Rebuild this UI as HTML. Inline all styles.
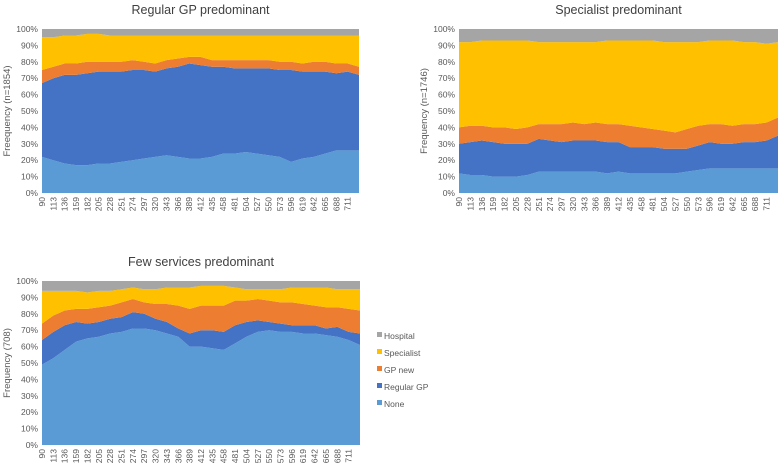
<!DOCTYPE html>
<html><head><meta charset="utf-8"><style>
body{margin:0;background:#fff;}
svg{display:block;font-family:"Liberation Sans",sans-serif;}
</style></head><body>
<svg id="s" width="780" height="465"></svg>
<script>
const xTicks=[90,113,136,159,182,205,228,251,274,297,320,343,366,389,412,435,458,481,504,527,550,573,596,619,642,665,688,711];
const xPoints=[90,113,136,159,182,205,228,251,274,297,320,343,366,389,412,435,458,481,504,527,550,573,596,619,642,665,688,711,734];
const yTicks=[0,10,20,30,40,50,60,70,80,90,100];
const seriesNames=["None","Regular GP","GP new","Specialist","Hospital"];
const colors=["#5B9BD5","#4472C4","#ED7D31","#FFC000","#A5A5A5"];
// cumulative upper bounds (%) of each stacked layer
const gpNone=[22,20,18,17,17,18,18,19,20,21,22,23,22,21,21,22,24,24,25,24,23,22,19,21,22,24,26,26,26];
const gpRegular=[67,70,72,72,73,74,74,74,75,75,74,76,77,79,78,77,77,76,76,76,76,75,75,74,74,74,73,74,72];
const gpNew=[75,77,79,79,80,80,80,80,81,80,79,81,82,83,83,81,81,81,81,81,81,80,80,79,80,80,79,79,77];
const gpSpec=[95,95,96,96,97,97,96,96,96,96,96,96,96,96,96,96,96,96,96,96,96,96,96,96,96,96,96,96,96];
const spNone=[12,11,11,10,10,10,11,13,13,13,13,13,13,12,13,12,12,12,12,12,13,14,15,15,15,15,15,15,15];
const spRegular=[30,31,32,31,30,30,30,33,32,31,32,32,32,31,31,28,28,28,27,27,27,29,31,30,30,31,31,32,35];
const spNew=[40,41,41,40,40,39,40,42,42,42,43,42,43,42,42,41,40,39,38,37,39,41,42,42,41,42,42,43,46];
const spSpec=[92,92,93,93,93,93,93,92,92,92,92,92,92,93,93,93,93,93,92,92,92,92,93,93,93,92,92,91,92];
const fwNone=[49,53,58,63,65,66,68,69,71,71,70,68,66,60,60,59,58,62,66,69,70,69,69,68,68,67,66,64,61];
const fwRegular=[64,69,73,75,74,75,77,78,81,80,77,75,71,68,70,70,69,73,75,76,75,74,73,73,73,71,72,69,68];
const fwNew=[74,79,82,83,83,84,85,87,89,87,86,86,85,83,85,85,85,88,88,89,88,87,87,86,85,84,84,83,82];
const fwSpec=[94,94,94,94,93,94,94,95,96,95,95,96,96,96,97,97,97,96,95,95,95,95,96,96,96,96,95,95,95];

const NS="http://www.w3.org/2000/svg";
const svg=document.getElementById('s');
function mk(t,a,p){const e=document.createElementNS(NS,t);for(const k in a)e.setAttribute(k,a[k]);(p||svg).appendChild(e);return e;}

function chart(key,title,ylab,L,R,T,B,layers){
  const g=mk('g',{});
  
  
  const xs=v=>L+(v-xPoints[0])/(xPoints[xPoints.length-1]-xPoints[0])*(R-L);
  const ys=v=>B-v/100*(B-T);
  const tops=[...layers,xPoints.map(()=>100)];
  for(let i=0;i<tops.length;i++){
    const up=tops[i].map((v,j)=>xs(xPoints[j])+','+ys(v));
    const lo=(i==0?xPoints.map(()=>0):tops[i-1]).map((v,j)=>xs(xPoints[j])+','+ys(v)).reverse();
    const p=mk('polygon',{points:up.concat(lo).join(' '),fill:colors[i]},g);
    
    
  }
  yTicks.forEach(v=>{const t=mk('text',{x:L-4,y:ys(v)+3,'font-size':8.5,fill:'#595959','text-anchor':'end'},g);t.textContent=v+'%';
    });
  xTicks.forEach(v=>{const x=xs(v)+3;const t=mk('text',{x:x,y:B+4,'font-size':8.5,fill:'#595959','text-anchor':'end',transform:`rotate(-90 ${x} ${B+4})`},g);t.textContent=v;
    });
  const tt=mk('text',{x:(L+R)/2,y:T-15,'font-size':12.5,fill:'#404040','text-anchor':'middle'},g);tt.textContent=title;
  
  const yl=L-32,ym=(T+B)/2;
  const yt=mk('text',{x:yl,y:ym,'font-size':9.5,fill:'#595959','text-anchor':'middle',transform:`rotate(-90 ${yl} ${ym})`},g);yt.textContent=ylab;
  
}
chart('regular-gp','Regular GP predominant','Freequency (n=1854)',42,359,29,193,[gpNone,gpRegular,gpNew,gpSpec]);
chart('specialist','Specialist predominant','Frequency (n=1746)',459,778,29,193,[spNone,spRegular,spNew,spSpec]);
chart('few-services','Few services predominant','Frequency (708)',42,360,281,445,[fwNone,fwRegular,fwNew,fwSpec]);

const lg=mk('g',{});


for(let i=4;i>=0;i--){
  const y=336+(4-i)*17;
  const r=mk('rect',{x:377,y:y-4,width:5,height:5,fill:colors[i]},lg);
  
  const t=mk('text',{x:384,y:y+3,'font-size':8.5,fill:'#595959'},lg);t.textContent=seriesNames[i];
  
}
</script>
</body></html>
